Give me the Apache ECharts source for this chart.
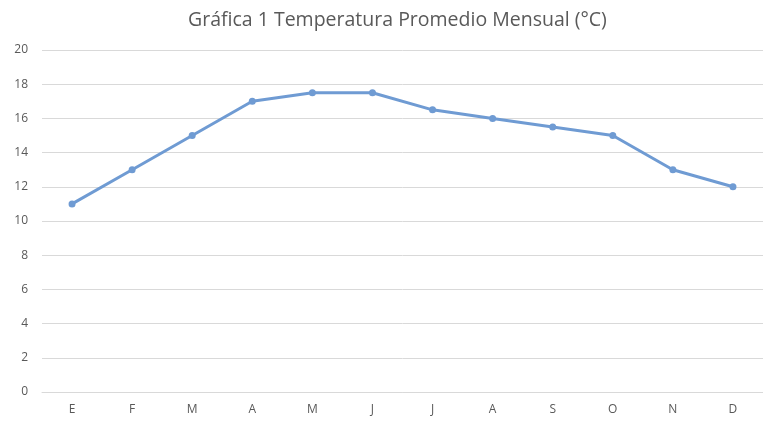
<!DOCTYPE html>
<html>
<head>
<meta charset="utf-8">
<script src="https://cdn.jsdelivr.net/npm/echarts@6/dist/echarts.min.js"></script>
<style>
  html, body { margin: 0; padding: 0; background: #fff; }
  #chart { width: 763px; height: 430px; }
</style>
</head>
<body>
<div id="chart"></div>
<script>
const months = ['E', 'F', 'M', 'A', 'M', 'J', 'J', 'A', 'S', 'O', 'N', 'D'];
const temperature = [11, 13, 15, 17, 17.5, 17.5, 16.5, 16, 15.5, 15, 13, 12];

const chart = echarts.init(document.getElementById('chart'));

chart.setOption({
  animation: false,
  title: {
    text: 'Gráfica 1 Temperatura Promedio Mensual (°C)',
    left: 183,
    top: 5,
    textStyle: {
      fontFamily: 'Open Sans',
      fontSize: 19.5,
      fontWeight: 'normal',
      color: '#595959'
    }
  },
  grid: { left: 42, right: -1, top: 50, bottom: 38 },
  xAxis: {
    type: 'category',
    data: months,
    boundaryGap: true,
    axisLine: { lineStyle: { color: '#d9d9d9' } },
    axisTick: { show: false },
    axisLabel: { color: '#595959', fontFamily: 'Open Sans', fontSize: 12, margin: 12 }
  },
  yAxis: {
    type: 'value',
    min: 0,
    max: 20,
    interval: 2,
    axisLine: { show: false },
    axisTick: { show: false },
    axisLabel: { color: '#595959', fontFamily: 'Open Sans', fontSize: 12, margin: 14 },
    splitLine: { lineStyle: { color: '#d9d9d9' } }
  },
  series: [{
    type: 'line',
    data: temperature,
    symbol: 'circle',
    symbolSize: 7,
    lineStyle: { color: '#6f9bd3', width: 3 },
    itemStyle: { color: '#6f9bd3' }
  }]
});
</script>
</body>
</html>
